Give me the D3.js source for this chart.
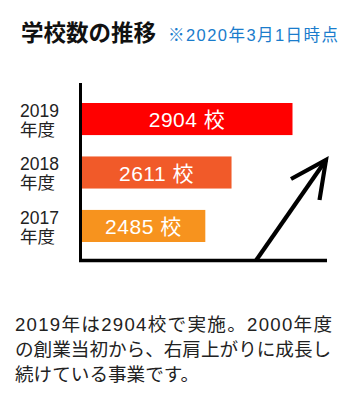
<!DOCTYPE html>
<html>
<head>
<meta charset="utf-8">
<script src="https://cdn.jsdelivr.net/npm/d3@7"></script>
<style>
  body { margin: 0; background: #fff; }
  text { font-family: "Liberation Sans", "Noto Sans CJK JP", sans-serif; }
</style>
</head>
<body>
<div id="chart"></div>
<script>
// data
const years = ["2019", "2018", "2017"];
const schools = [2904, 2611, 2485];
const colors = ["#ff0000", "#f15a29", "#f7931e"];
const unit = "校";
const bodyLines = [
  "2019年は2904校で実施。2000年度",
  "の創業当初から、右肩上がりに成長し",
  "続けている事業です。"
];

const W = 355, H = 410;
const svg = d3.select("#chart").append("svg")
    .attr("width", W)
    .attr("height", H);

// title
svg.append("text")
    .attr("x", 21).attr("y", 41)
    .attr("font-size", 22.5).attr("font-weight", "bold")
    .attr("fill", "#111")
    .text("学校数の推移");
svg.append("text")
    .attr("x", 168).attr("y", 41)
    .attr("font-size", 16.5)
    .attr("fill", "#1a7ccc")
    .attr("textLength", 170).attr("lengthAdjust", "spacing")
    .text("※2020年3月1日時点");

// scales
const x0 = 81.5;
const x = d3.scaleLinear()
    .domain([1890, 2904])
    .range([x0, x0 + 211]);

const y = d3.scaleBand()
    .domain(years)
    .range([103, 242])
    .paddingInner(0.4)
    .paddingOuter(0);

// bars
const g = svg.append("g");
g.selectAll("rect")
  .data(years)
  .enter().append("rect")
    .attr("x", x0)
    .attr("y", d => y(d))
    .attr("width", (d, i) => x(schools[i]) - x0)
    .attr("height", y.bandwidth())
    .attr("fill", (d, i) => colors[i]);

g.selectAll(".val")
  .data(years)
  .enter().append("text")
    .attr("class", "val")
    .attr("x", (d, i) => (x0 + x(schools[i])) / 2)
    .attr("y", d => y(d) + y.bandwidth() / 2 + 8)
    .attr("text-anchor", "middle")
    .attr("font-size", 21)
    .attr("letter-spacing", 0.5)
    .attr("fill", "#fff")
    .text((d, i) => schools[i] + " " + unit);

// year labels, two lines each
g.selectAll(".yl")
  .data(years)
  .enter().append("text")
    .attr("class", "yl")
    .attr("x", 20).attr("y", d => y(d) + 14)
    .attr("font-size", 17.5)
    .attr("fill", "#222")
    .text(d => d);
g.selectAll(".yl2")
  .data(years)
  .enter().append("text")
    .attr("class", "yl2")
    .attr("x", 20).attr("y", d => y(d) + 33)
    .attr("font-size", 17.5)
    .attr("fill", "#222")
    .text("年度");

// axes (plain lines)
const axisY = 260.5;
svg.append("line")
    .attr("x1", 80.5).attr("x2", 80.5)
    .attr("y1", 83).attr("y2", axisY + 1.5)
    .attr("stroke", "#000").attr("stroke-width", 3);
svg.append("line")
    .attr("x1", 79).attr("x2", 327)
    .attr("y1", axisY).attr("y2", axisY)
    .attr("stroke", "#000").attr("stroke-width", 3.5);

// rising arrow
const tip = [326, 160];
svg.append("path")
    .attr("d", `M256,${axisY}L${tip[0]},${tip[1]}`)
    .attr("stroke", "#000").attr("stroke-width", 4.2)
    .attr("fill", "none");
svg.append("path")
    .attr("d", `M291,179L${tip[0]},${tip[1]}L319.5,200`)
    .attr("stroke", "#000").attr("stroke-width", 4.2)
    .attr("stroke-linejoin", "miter")
    .attr("fill", "none");

// body text
svg.selectAll(".body")
  .data(bodyLines)
  .enter().append("text")
    .attr("class", "body")
    .attr("x", 15)
    .attr("y", (d, i) => 331 + i * 25)
    .attr("font-size", 18.6)
    .attr("fill", "#222")
    .attr("textLength", (d, i) => i === 0 ? 317 : null)
    .attr("lengthAdjust", "spacing")
    .text(d => d);
</script>
</body>
</html>
